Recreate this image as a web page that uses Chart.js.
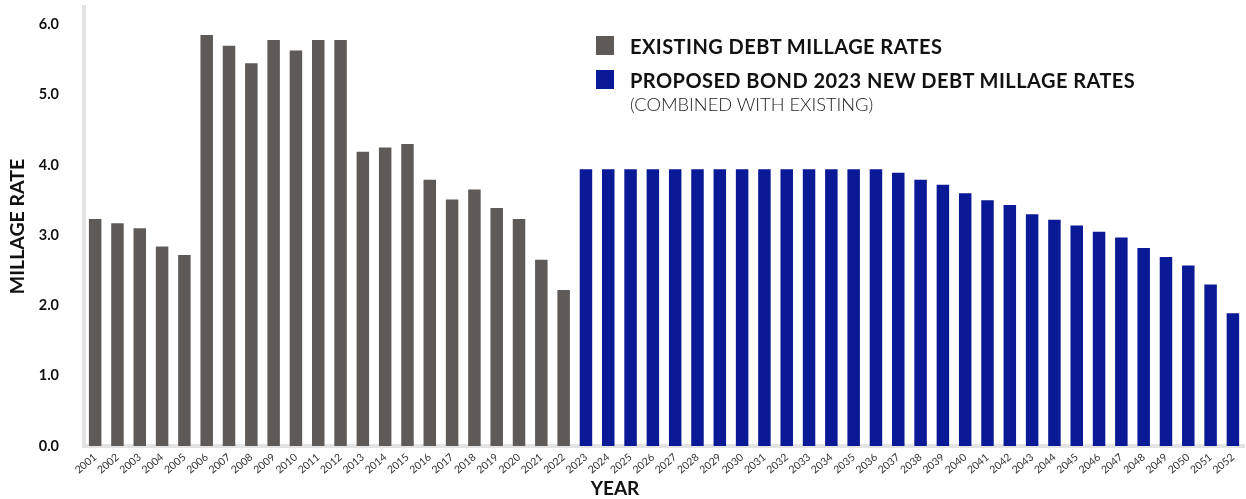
<!DOCTYPE html>
<html>
<head>
<meta charset="utf-8">
<script src="https://cdn.jsdelivr.net/npm/chart.js@4"></script>
<style>
  html, body { margin: 0; padding: 0; background: #fff; }
  #wrap { position: relative; width: 1246px; height: 499px; }
  canvas { display: block; }
  .legend { position: absolute; left: 596px; top: 36px; font-family: Lato, sans-serif; color: #111; }
  .legend .row { position: relative; height: 33.5px; }
  .legend .sw { position: absolute; left: 0; top: 0; width: 18px; height: 19px; }
  .legend .lab { position: absolute; left: 34px; top: -2px; font-weight: 700; font-size: 20px; white-space: nowrap; letter-spacing: 0.45px; }
  .legend .sub { position: absolute; left: 34px; top: 23px; font-weight: 300; font-size: 18.3px; white-space: nowrap; color: #222; }
  .xtitle { position: absolute; left: 615px; top: 476px; transform: translateX(-50%); font-family: Lato, sans-serif; font-weight: 700; font-size: 19px; color: #111; }
</style>
</head>
<body>
<div id="wrap">
  <canvas id="chart" width="1246" height="499"></canvas>
  <div class="legend">
    <div class="row"><div class="sw" style="background:#5e5a57"></div><div class="lab">EXISTING DEBT MILLAGE RATES</div></div>
    <div class="row"><div class="sw" style="background:#0a1995"></div><div class="lab">PROPOSED BOND 2023 NEW DEBT MILLAGE RATES</div><div class="sub">(COMBINED WITH EXISTING)</div></div>
  </div>
  <div class="xtitle">YEAR</div>
</div>
<script>
const years = [
  '2001', '2002', '2003', '2004', '2005', '2006', '2007', '2008', '2009', '2010',
  '2011', '2012', '2013', '2014', '2015', '2016', '2017', '2018', '2019', '2020',
  '2021', '2022', '2023', '2024', '2025', '2026', '2027', '2028', '2029', '2030',
  '2031', '2032', '2033', '2034', '2035', '2036', '2037', '2038', '2039', '2040',
  '2041', '2042', '2043', '2044', '2045', '2046', '2047', '2048', '2049', '2050',
  '2051', '2052',
];

// 2001 - 2022
const existingRates = [
  3.23, 3.17, 3.10, 2.84, 2.72, 5.85, 5.70, 5.45, 5.78, 5.63,
  5.78, 5.78, 4.19, 4.25, 4.30, 3.79, 3.51, 3.65, 3.39, 3.23,
  2.65, 2.22,
];

// 2023 - 2052
const proposedRates = [
  3.94, 3.94, 3.94, 3.94, 3.94, 3.94, 3.94, 3.94, 3.94, 3.94,
  3.94, 3.94, 3.94, 3.94, 3.89, 3.79, 3.72, 3.60, 3.50, 3.43,
  3.30, 3.22, 3.14, 3.05, 2.97, 2.82, 2.69, 2.57, 2.30, 1.89,
];

const yTicks = [0, 1, 2, 3, 4, 5, 6];

const existingData = years.map((y, i) => (i < existingRates.length ? existingRates[i] : null));
const proposedData = years.map((y, i) => (i >= existingRates.length ? proposedRates[i - existingRates.length] : null));

const axisColor = '#e3e3e3';

new Chart(document.getElementById('chart'), {
  type: 'bar',
  data: {
    labels: years,
    datasets: [
      {
        label: 'EXISTING DEBT MILLAGE RATES',
        data: existingData,
        backgroundColor: '#5e5a57',
        categoryPercentage: 1,
        barPercentage: 0.56,
      },
      {
        label: 'PROPOSED BOND 2023 NEW DEBT MILLAGE RATES',
        data: proposedData,
        backgroundColor: '#0a1995',
        categoryPercentage: 1,
        barPercentage: 0.56,
      },
    ],
  },
  options: {
    responsive: false,
    animation: false,
    layout: { padding: { top: 7 } },
    plugins: { legend: { display: false }, tooltip: { enabled: false } },
    scales: {
      x: {
        stacked: true,
        grid: { display: false, drawTicks: false },
        border: { color: axisColor, width: 4 },
        ticks: {
          autoSkip: false,
          minRotation: 40,
          maxRotation: 40,
          padding: 5,
          color: '#333',
          font: { family: 'Lato, sans-serif', size: 10.5, weight: 400 },
        },
        afterFit: (scale) => { scale.height = 53; },
      },
      y: {
        min: 0,
        max: 6.25,
        grid: { display: false, drawTicks: false },
        border: { color: axisColor, width: 4 },
        afterBuildTicks: (scale) => { scale.ticks = yTicks.map((v) => ({ value: v })); },
        ticks: {
          padding: 25,
          color: '#111',
          font: { family: 'Lato, sans-serif', size: 14.5, weight: 700 },
          callback: (v) => Number(v).toFixed(1),
        },
        title: {
          display: true,
          text: 'MILLAGE RATE',
          color: '#111',
          padding: { top: 6, bottom: 0 },
          font: { family: 'Lato, sans-serif', size: 19.5, weight: 700 },
        },
        afterFit: (scale) => {
          scale.width = 84;
          scale.paddingTop = 0;
          scale.paddingBottom = 0;
        },
      },
    },
  },
});
</script>
</body>
</html>
